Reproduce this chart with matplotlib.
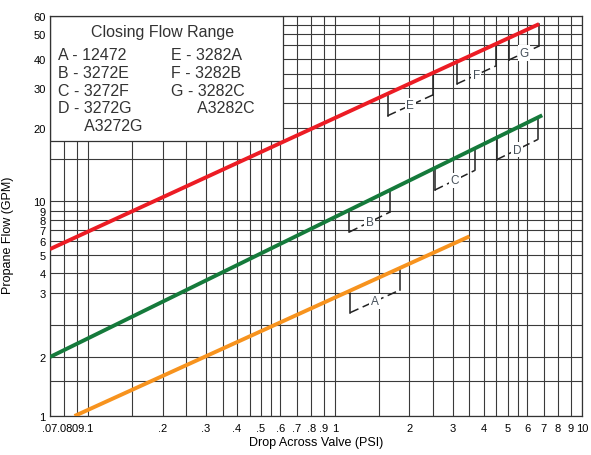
import numpy as np
import matplotlib
matplotlib.use('Agg')
import matplotlib.pyplot as plt
from matplotlib.patches import Rectangle
from matplotlib.ticker import FixedLocator, FixedFormatter, NullFormatter

plt.rcParams['font.family'] = ['Liberation Sans', 'DejaVu Sans']

# ---- data ----
red_x = [0.07, 6.7]
red_y = [5.4, 55.5]
green_x = [0.07, 6.9]
green_y = [2.0, 22.4]
orange_x = [0.088, 3.5]
orange_y = [1.0, 6.4]

range_letters = ['A', 'B', 'C', 'D', 'E', 'F', 'G']
range_curve = ['orange', 'green', 'green', 'green', 'red', 'red', 'red']
range_lo = [1.15, 1.14, 2.53, 4.51, 1.63, 3.11, 5.05]
range_hi = [1.83, 1.67, 3.68, 6.62, 2.49, 4.47, 6.70]

legend_left = ['A - 12472', 'B - 3272E', 'C - 3272F', 'D - 3272G', '      A3272G']
legend_right = ['E - 3282A', 'F - 3282B', 'G - 3282C', '      A3282C']

x_ticks = [0.07, 0.08, 0.09, 0.1, 0.2, 0.3, 0.4, 0.5, 0.6, 0.7, 0.8, 0.9,
           1, 2, 3, 4, 5, 6, 7, 8, 9, 10]
x_labels = ['.07', '.08', '.09', '.1', '.2', '.3', '.4', '.5', '.6', '.7', '.8', '.9',
            '1', '2', '3', '4', '5', '6', '7', '8', '9', '10']
x_minor = [0.15, 0.25, 0.35, 0.45, 0.55, 1.5, 2.5, 3.5, 4.5, 5.5]
y_ticks = [1, 2, 3, 4, 5, 6, 7, 8, 9, 10, 20, 30, 40, 50, 60]
y_minor = [1.5, 2.5, 15, 25, 35, 45, 55]

# the printed chart paper has an uneven flow axis: calibrate it
y_paper_vals = [0.01, 1, 1.5, 2, 2.5, 3, 4, 5, 6, 7, 8, 9, 10,
                15, 20, 25, 30, 35, 40, 45, 50, 55, 60, 1e4]
y_paper_pos = [-430, 0, 35, 59, 91, 123, 143, 161, 175, 186, 196, 205, 215,
               257, 288, 313, 328, 342, 357, 371, 382, 391, 400, 878]


def fwd(v):
    v = np.clip(np.asarray(v, dtype=float), 1e-6, None)
    return np.interp(np.log10(v), np.log10(y_paper_vals), y_paper_pos)


def inv(u):
    return 10 ** np.interp(np.asarray(u, dtype=float), y_paper_pos, np.log10(y_paper_vals))


fig = plt.figure(figsize=(5.91, 4.56), dpi=100)
ax = fig.add_axes([50 / 591, 39 / 456, 532 / 591, 400 / 456])
ax.set_xscale('log')
ax.set_yscale('function', functions=(fwd, inv))
ax.set_xlim(0.07, 10)
ax.set_ylim(1, 60)

ax.xaxis.set_major_locator(FixedLocator(x_ticks))
ax.xaxis.set_major_formatter(FixedFormatter(x_labels))
ax.xaxis.set_minor_locator(FixedLocator(x_minor))
ax.xaxis.set_minor_formatter(NullFormatter())
ax.yaxis.set_major_locator(FixedLocator(y_ticks))
ax.yaxis.set_major_formatter(FixedFormatter([str(v) for v in y_ticks]))
ax.yaxis.set_minor_locator(FixedLocator(y_minor))
ax.yaxis.set_minor_formatter(NullFormatter())

ax.tick_params(which='both', length=0)
ax.tick_params(axis='x', labelsize=8, pad=5)
ax.tick_params(axis='y', labelsize=8, pad=3)
ax.set_axisbelow(True)
ax.grid(True, which='both', color='#3a3a3a', linewidth=0.8)
for sp in ax.spines.values():
    sp.set_color('#333333')
    sp.set_linewidth(0.9)

ax.set_xlabel('Drop Across Valve (PSI)', fontsize=9, labelpad=2)
ax.set_ylabel('Propane Flow (GPM)', fontsize=9)
ax.yaxis.set_label_coords(-0.068, 0.455)

curves = {'red': (red_x, red_y, '#ec1c24'),
          'green': (green_x, green_y, '#157a3b'),
          'orange': (orange_x, orange_y, '#f7931e')}
for name, (cx, cy, col) in curves.items():
    ax.plot(cx, cy, color=col, linewidth=2.8, solid_capstyle='butt', zorder=4)

# closing flow range brackets under each curve
depth = 22
for letter, cname, lo, hi in zip(range_letters, range_curve, range_lo, range_hi):
    cx, cy, col = curves[cname]
    lx = np.log10(cx)
    u0, u1 = fwd(cy[0]), fwd(cy[1])
    pts = []
    for xv in (lo, hi):
        t = (np.log10(xv) - lx[0]) / (lx[1] - lx[0])
        pts.append(u0 + t * (u1 - u0))
    top = inv(np.array(pts))
    bot = inv(np.array(pts) - depth)
    ax.plot([lo, lo], [top[0], bot[0]], color='#222222', lw=1.1, zorder=3)
    ax.plot([hi, hi], [top[1], bot[1]], color='#222222', lw=1.1, zorder=3)
    ax.plot([lo, hi], [bot[0], bot[1]], color='#222222', lw=1.1, zorder=3,
            linestyle=(0, (6, 3)))
    mx = np.sqrt(lo * hi)
    my = inv((pts[0] + pts[1]) / 2 - depth)
    ax.text(mx, my, letter, fontsize=8.5, color='#46505a', ha='center', va='center',
            zorder=5, bbox=dict(facecolor='white', edgecolor='none', pad=1.2))

# legend box in the upper left corner
ax.add_patch(Rectangle((0, 0.6875), 0.438, 0.3125, transform=ax.transAxes,
                       facecolor='white', edgecolor='#333333', linewidth=0.9, zorder=2))
ax.text(0.212, 0.95, 'Closing Flow Range', transform=ax.transAxes, fontsize=11.5,
        ha='center', va='baseline', color='#333333', zorder=3)
row_y = [0.8925, 0.8475, 0.8025, 0.76, 0.715]
for i, s in enumerate(legend_left):
    ax.text(0.015, row_y[i], s, transform=ax.transAxes, fontsize=11.5,
            va='baseline', color='#333333', zorder=3)
for i, s in enumerate(legend_right):
    ax.text(0.2275, row_y[i], s, transform=ax.transAxes, fontsize=11.5,
            va='baseline', color='#333333', zorder=3)

fig.savefig('out.png', dpi=100)
